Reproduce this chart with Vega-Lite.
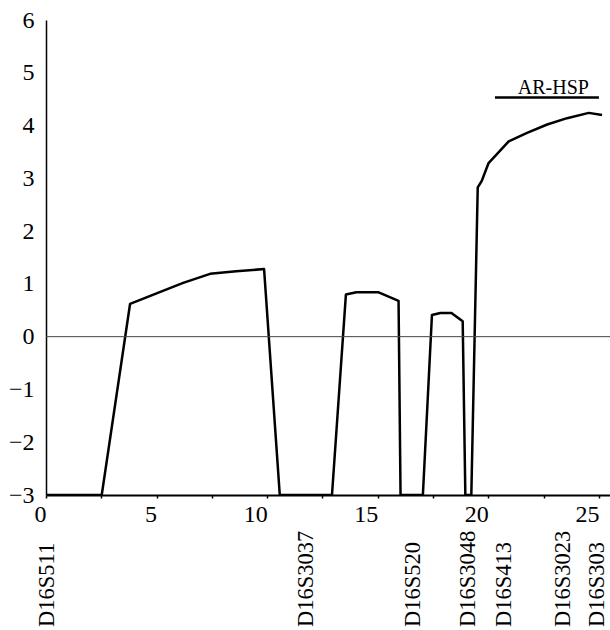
{
  "$schema": "https://vega.github.io/schema/vega-lite/v6.json",
  "width": 564,
  "height": 475,
  "autosize": "none",
  "padding": {"left": 46, "top": 20, "right": 0, "bottom": 135},
  "background": "white",
  "config": {
    "view": {"stroke": null},
    "font": "Liberation Serif",
    "axis": {"grid": false, "labelFont": "Liberation Serif", "labelColor": "black", "domainColor": "black", "tickColor": "black"}
  },
  "datasets": {
    "curve": [
      {"pos": 0, "lod": -3},
      {"pos": 2.52, "lod": -3},
      {"pos": 3.8, "lod": 0.62},
      {"pos": 5.0, "lod": 0.82},
      {"pos": 6.2, "lod": 1.02},
      {"pos": 7.42, "lod": 1.19},
      {"pos": 8.6, "lod": 1.24},
      {"pos": 9.86, "lod": 1.28},
      {"pos": 10.57, "lod": -3},
      {"pos": 12.93, "lod": -3},
      {"pos": 13.56, "lod": 0.8},
      {"pos": 14.03, "lod": 0.84},
      {"pos": 15.04, "lod": 0.84},
      {"pos": 15.94, "lod": 0.68},
      {"pos": 16.03, "lod": -3},
      {"pos": 17.04, "lod": -3},
      {"pos": 17.45, "lod": 0.41},
      {"pos": 17.83, "lod": 0.45},
      {"pos": 18.33, "lod": 0.45},
      {"pos": 18.84, "lod": 0.29},
      {"pos": 18.96, "lod": -3},
      {"pos": 19.23, "lod": -3},
      {"pos": 19.52, "lod": 2.83},
      {"pos": 19.7, "lod": 2.95},
      {"pos": 20.01, "lod": 3.29},
      {"pos": 20.92, "lod": 3.7},
      {"pos": 21.75, "lod": 3.86},
      {"pos": 22.66, "lod": 4.02},
      {"pos": 23.56, "lod": 4.14},
      {"pos": 24.54, "lod": 4.24},
      {"pos": 25.14, "lod": 4.2}
    ],
    "markers": [
      {"name": "D16S511", "pos": 0.05},
      {"name": "D16S3037", "pos": 11.75},
      {"name": "D16S520", "pos": 16.58},
      {"name": "D16S3048", "pos": 19.09},
      {"name": "D16S413", "pos": 20.7},
      {"name": "D16S3023", "pos": 23.39},
      {"name": "D16S303", "pos": 24.9}
    ],
    "region": [
      {"label": "AR-HSP", "start": 20.3, "end": 25.0, "lod": 4.53, "mid": 22.94, "textLod": 4.6}
    ],
    "zero": [{"lod": 0}]
  },
  "layer": [
    {
      "data": {"name": "curve"},
      "mark": {"type": "line", "color": "black", "strokeWidth": 2.5, "strokeJoin": "round", "clip": true},
      "encoding": {
        "x": {
          "field": "pos", "type": "quantitative", "title": null,
          "scale": {"domain": [0, 25.5], "nice": false, "zero": false},
          "axis": {
            "values": [0, 2.5, 5, 7.5, 10, 12.5, 15, 17.5, 20, 22.5, 25],
            "labelExpr": "datum.value % 5 === 0 ? datum.label : ''",
            "labelFont": "Liberation Serif",
            "labelFontSize": 24,
            "labelColor": "black",
            "labelAlign": "right",
            "labelPadding": 4,
            "tickSize": 3,
            "tickWidth": 1.5,
            "domainWidth": 2,
            "labelFlush": false,
            "labelOverlap": false
          }
        },
        "y": {
          "field": "lod", "type": "quantitative", "title": null,
          "scale": {"domain": [-3, 6], "nice": false, "zero": false},
          "axis": {
            "values": [-3, -2, -1, 0, 1, 2, 3, 4, 5, 6],
            "labelFont": "Liberation Serif",
            "labelFontSize": 24,
            "labelColor": "black",
            "ticks": false,
            "labelPadding": 12,
            "domainWidth": 1.5,
            "labelFlush": false,
            "labelOverlap": false
          }
        }
      }
    },
    {
      "data": {"name": "zero"},
      "mark": {"type": "rule", "color": "#444444", "strokeWidth": 1},
      "encoding": {
        "y": {"field": "lod", "type": "quantitative", "title": null}
      }
    },
    {
      "data": {"name": "region"},
      "mark": {"type": "rule", "color": "black", "strokeWidth": 2.5},
      "encoding": {
        "x": {"field": "start", "type": "quantitative", "title": null},
        "x2": {"field": "end"},
        "y": {"field": "lod", "type": "quantitative", "title": null}
      }
    },
    {
      "data": {"name": "region"},
      "mark": {"type": "text", "font": "Liberation Serif", "fontSize": 20, "baseline": "alphabetic", "align": "center", "color": "black"},
      "encoding": {
        "x": {"field": "mid", "type": "quantitative", "title": null},
        "y": {"field": "textLod", "type": "quantitative", "title": null},
        "text": {"field": "label"}
      }
    },
    {
      "data": {"name": "markers"},
      "mark": {"type": "text", "font": "Liberation Serif", "fontSize": 22.5, "angle": 270, "align": "left", "baseline": "middle", "dx": -132, "color": "black"},
      "encoding": {
        "x": {"field": "pos", "type": "quantitative", "title": null},
        "y": {"datum": -3},
        "text": {"field": "name"}
      }
    }
  ]
}
